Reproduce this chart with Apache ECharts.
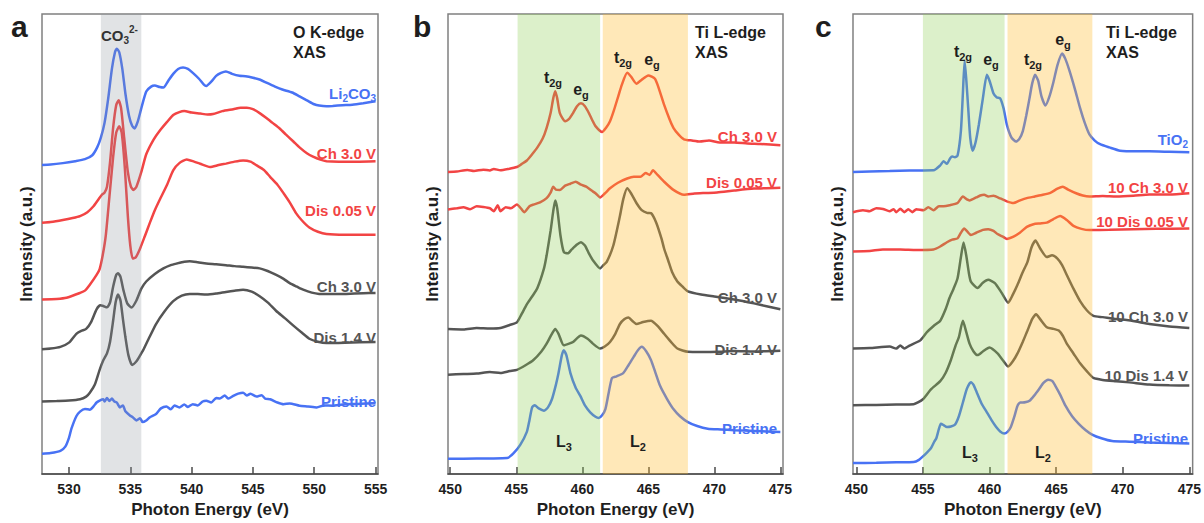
<!DOCTYPE html>
<html><head><meta charset="utf-8">
<script src="https://cdn.jsdelivr.net/npm/echarts@6/dist/echarts.min.js"></script>
<style>html,body{margin:0;padding:0;background:#fff}#c{width:1204px;height:523px}</style>
</head><body><div id="c"></div>
<script>
// ---------- tick labels ----------
const aXTicks = [530, 535, 540, 545, 550, 555];
const bXTicks = [450, 455, 460, 465, 470, 475];
const cXTicks = [450, 455, 460, 465, 470, 475];

// ---------- shaded energy bands ----------
const aBands = [[532.6, 535.9]];
const bBands = [[455.1, 461.35], [461.55, 468.0]];
const cBands = [[455.0, 461.13], [461.35, 467.72]];

// ---------- panel a : O K-edge ----------
const aLi2CO3 = [[527.8,315],[528.5,315.5],[529.5,317],[530.5,319],[531.3,321],[531.9,325],[532.3,333],[532.6,343],[532.9,358],[533.2,383],[533.5,413],[533.75,430],[533.9,433.7],[534.1,430],[534.35,413],[534.6,388],[534.9,365],[535.15,355],[535.35,352.3],[535.6,359],[535.9,373],[536.3,390],[536.7,395],[537.0,396],[537.4,394.5],[537.7,394],[538.1,401],[538.5,408],[538.9,413],[539.3,414.5],[539.7,413],[540.1,409],[540.6,403],[541.0,397],[541.2,395.7],[541.6,400],[542.0,406],[542.4,409],[542.8,410.5],[543.3,408],[543.9,406],[544.4,405.5],[545.0,404],[545.6,402],[546.1,399],[546.8,395],[547.4,392],[548.2,389],[548.8,385],[549.4,381],[550.0,377],[550.4,375.7],[551.0,375],[551.5,375.3],[552.3,376],[553.1,376.5],[554.0,378],[555.0,380]];
const aCh30 = [[527.8,256.3],[528.5,257],[529.5,259],[530.3,261],[530.9,263],[531.5,267],[532.0,273],[532.4,280],[532.7,285],[532.9,287],[533.1,293],[533.35,318],[533.6,353],[533.85,376],[534.05,381],[534.25,373],[534.5,343],[534.8,308],[535.05,293],[535.25,289.7],[535.5,293],[535.9,308],[536.3,326],[536.9,341],[537.4,350],[538.0,359],[538.5,366],[539.0,369],[539.4,370],[540.0,368.5],[540.7,367.5],[541.3,366.5],[541.75,367],[542.5,370],[543.4,372],[544.0,373.5],[544.5,373.5],[545.0,372],[545.55,368],[546.1,363],[546.6,358],[547.2,352],[547.7,346],[548.3,339],[548.8,333],[549.4,327],[549.9,323.5],[550.5,320.5],[551.0,319],[552.0,318.5],[553.5,318.5],[555.0,319]];
const aDis005 = [[527.8,178],[529.0,178.5],[529.8,179.7],[530.9,184.7],[531.3,187],[531.7,193],[532.25,203],[532.5,209],[532.75,223],[533.0,243],[533.3,283],[533.6,323],[533.85,348],[534.1,354.5],[534.3,348],[534.55,313],[534.8,263],[535.0,233],[535.2,219.7],[535.45,221],[535.8,230],[536.2,243],[536.6,256.3],[537.0,269],[537.4,279.7],[538.0,295],[538.5,309.7],[539.0,317],[539.6,320.7],[540.2,318.5],[540.7,316.3],[541.5,313],[542.2,315],[542.8,316.5],[543.5,318.5],[544.2,319.7],[544.8,318.5],[545.3,314.7],[545.9,310],[546.4,303],[547.0,295],[547.5,286.3],[548.0,277],[548.5,266.3],[549.0,258.5],[549.6,251.3],[550.3,247],[551.0,244.7],[552.5,244],[555.0,244]];
const aCh30Gray = [[527.8,127.3],[528.5,128],[529.3,129.7],[530.0,134],[530.6,143],[531.0,146],[531.4,148],[531.8,155],[532.25,168],[532.55,172],[532.8,171.3],[533.1,170],[533.35,175],[533.6,191],[533.85,203],[534.0,204.7],[534.2,201],[534.45,187],[534.75,174],[535.1,169.7],[535.5,177],[535.9,189],[536.3,196.3],[537.0,204],[537.7,209.7],[538.3,213],[538.8,214.7],[539.4,216.5],[539.85,217],[540.5,216],[541.2,214.7],[542.0,214],[542.8,213],[543.5,212],[544.2,211.3],[544.9,210.5],[545.55,209.7],[546.2,207],[546.9,203],[547.5,199],[548.0,194.7],[548.6,191],[549.1,188],[549.8,185],[550.4,183.7],[551.5,183.5],[552.6,183.7],[554.0,184.3],[555.0,184.7]];
const aDis14 = [[527.8,74],[529.0,74.5],[530.0,75],[530.9,76.3],[531.4,79],[531.7,83],[532.1,91],[532.5,106.3],[532.8,116],[533.1,123],[533.35,135],[533.6,156.3],[533.8,175],[534.0,183],[534.2,177],[534.4,158],[534.6,139.7],[534.85,121],[535.15,111.3],[535.5,115],[535.8,121],[536.05,126.3],[536.5,138],[537.1,153],[537.8,166],[538.5,176.3],[539.2,182],[539.85,183.7],[540.5,183.5],[541.2,183],[542.0,184],[542.8,185.7],[543.5,187],[544.2,188],[544.9,186],[545.55,181.3],[546.2,175],[546.9,166.3],[547.6,159],[548.3,151.3],[549.0,144],[549.6,138],[550.3,135],[551.0,133.7],[552.5,134],[555.0,134.7]];
const aPristine = [[527.8,20.7],[528.5,21.5],[529.3,23.7],[529.7,28],[530.0,37],[530.2,46.3],[530.6,59],[530.9,63.7],[531.3,66.3],[531.7,65.7],[532.0,69],[532.25,73],[532.5,75],[532.8,76.3],[532.9,74],[533.1,77.5],[533.3,74.5],[533.5,77],[533.7,74],[533.9,73],[534.15,68],[534.4,70],[534.6,64],[534.97,59.7],[535.2,58],[535.5,54.7],[535.8,57],[536.0,53],[536.3,54.7],[536.6,58],[537.1,61.3],[537.5,67],[537.95,69],[538.3,66],[538.6,70],[539.0,68],[539.4,71],[539.7,68.5],[540.1,71.3],[540.5,70],[540.9,74],[541.2,74.7],[541.6,73],[542.0,77.5],[542.3,77],[542.7,80],[543.0,77],[543.4,79.7],[543.8,82],[544.2,83],[544.5,80],[544.8,82],[545.3,79],[545.7,80.5],[546.0,77],[546.4,76.3],[547.0,73],[547.5,71.3],[548.0,72],[548.8,69.7],[549.5,69],[550.2,68],[550.8,70],[551.5,69.7],[552.3,71],[553.5,71.5],[555.0,72.3]];

// ---------- panel b : Ti L-edge ----------
const bCh30 = [[449.83,308],[450.5,308.5],[451.3,310],[451.8,309],[452.5,310.3],[453.0,309.5],[453.3,311],[453.8,309.7],[454.4,311],[455.05,313],[455.4,316],[455.8,319.7],[456.2,326],[456.6,333],[457.0,342],[457.3,353],[457.6,368],[457.8,383],[457.95,390.3],[458.1,383],[458.3,368],[458.7,359.7],[459.0,362],[459.3,368],[459.6,375],[459.9,378],[460.2,375],[460.5,368],[460.75,361],[461.0,354.7],[461.5,348.7],[461.8,353],[462.1,359.7],[462.4,371],[462.75,386.3],[463.0,397],[463.4,409],[463.7,405],[464.1,398],[464.5,402],[465.0,406.3],[465.5,403],[465.8,393],[466.2,376.3],[466.6,362],[466.9,353],[467.3,346],[467.7,341.3],[468.3,340],[468.9,339],[469.6,340],[470.4,338],[471.5,338],[472.5,337],[473.5,336.5],[475.0,335.3]];
const bDis005 = [[449.83,269.7],[450.5,271],[451.0,272],[451.5,270],[452.0,273],[452.5,272.3],[453.0,271],[453.3,268],[453.6,274],[453.8,268],[454.2,272],[454.6,271],[455.05,274.7],[455.4,270],[455.6,267],[456.0,273],[456.3,274.7],[456.8,277],[457.3,281.3],[457.6,287],[457.8,293],[458.0,290],[458.3,289.7],[458.7,294],[459.1,296],[459.5,298],[459.9,295],[460.3,293],[460.7,289],[461.0,286.3],[461.35,282],[461.7,286],[462.1,291.3],[462.7,297],[463.4,301.3],[463.9,303],[464.4,303],[464.8,307],[465.1,305],[465.35,309.7],[465.7,305],[466.2,298],[466.9,289.7],[467.7,284.7],[468.5,286],[469.3,286.5],[470.2,287],[471.5,289],[473.0,291],[475.0,292]];
const bCh30Gray = [[449.83,148],[451.0,147.5],[452.0,149],[453.0,148.5],[453.8,149],[454.5,152],[455.05,154.7],[455.4,163],[455.8,173],[456.2,181],[456.6,189.7],[457.1,209.7],[457.3,223],[457.6,248],[457.8,268],[457.95,279],[458.1,271],[458.35,243],[458.6,226.3],[458.9,225],[459.2,229],[459.6,234],[459.9,236.3],[460.2,233],[460.5,225],[460.8,218],[461.35,209.7],[461.6,213],[461.85,216.3],[462.35,233],[462.85,263],[463.1,280],[463.4,291.3],[463.7,286],[464.1,276.3],[464.5,269],[464.9,266.3],[465.2,266],[465.6,256.3],[466.0,240],[466.2,229.7],[466.5,218],[466.8,206],[467.2,196.3],[467.6,191],[468.0,186.3],[469.0,183],[470.0,181],[471.5,178],[473.0,174],[475.0,168]];
const bDis14 = [[449.83,101.3],[451.0,102],[452.0,102.5],[453.0,104],[453.8,103],[454.5,105],[455.05,106.3],[455.7,111],[456.3,116.3],[456.9,125],[457.3,133],[457.7,143],[457.95,148],[458.2,143],[458.6,131.3],[459.0,133],[459.3,134.7],[459.9,141.3],[460.4,138],[460.8,133],[461.35,128],[461.7,130],[462.1,134.7],[462.5,143],[462.85,153],[463.2,158],[463.5,159.7],[463.8,156],[464.1,153],[464.6,155],[465.2,156.3],[465.7,151],[466.2,143],[466.7,135],[467.2,128],[468.0,124.7],[469.0,124.5],[470.3,124.7],[471.5,125.5],[473.0,125],[475.0,125.7]];
const bPristine = [[449.83,15.7],[451.0,15.7],[453.0,16],[454.3,16.3],[454.8,21.3],[455.3,29.7],[455.8,43],[456.0,55],[456.2,68],[456.4,70.3],[456.7,67],[457.1,64.7],[457.4,68],[457.7,76.3],[458.0,91],[458.2,103],[458.45,121],[458.6,126.3],[458.8,121],[459.1,103],[459.5,88],[459.85,79.7],[460.2,70],[460.6,63],[461.0,58.5],[461.25,57.3],[461.5,60],[461.75,66.3],[462.0,83],[462.25,98],[462.6,99.7],[463.1,103],[463.5,111],[463.9,119.7],[464.2,126],[464.5,129.7],[464.85,125],[465.2,116.3],[465.5,105],[465.9,89.7],[466.4,77],[466.9,66.3],[467.4,59],[468.0,53],[468.7,49],[469.5,46.3],[470.5,45.5],[471.5,44.7],[473.0,44],[475.0,43]];

// ---------- panel c : Ti L-edge after 10 cycles ----------
const cTiO2 = [[449.75,308],[451.0,308.5],[452.5,309],[454.0,309.5],[455.8,309.7],[456.3,314.7],[456.55,319],[456.8,316.3],[457.05,322],[457.2,323.7],[457.4,323],[457.6,324.7],[457.85,349.7],[458.0,388],[458.13,421.3],[458.25,403],[458.4,373],[458.55,343],[458.73,329.7],[458.95,338],[459.2,356.3],[459.5,383],[459.8,407],[460.0,401],[460.3,388],[460.55,384],[460.8,383],[461.05,373],[461.3,356.3],[461.65,343],[462.0,339],[462.25,342],[462.5,349.7],[462.75,365],[463.0,383],[463.2,398],[463.42,407],[463.65,401],[463.9,385],[464.2,375.7],[464.5,385],[464.8,399.7],[465.1,417],[465.45,428.7],[465.7,423],[466.0,411.3],[466.4,393],[466.8,373],[467.15,358],[467.5,346.3],[467.9,340],[468.3,336.3],[469.0,333],[469.8,329.7],[471.0,329],[472.0,329],[473.5,328.5],[475.0,328]];
const c10Ch30 = [[449.75,267],[450.5,269],[451.0,268],[451.5,271],[452.0,270.3],[452.5,268],[452.8,270],[453.0,267],[453.3,270.5],[453.6,267],[453.9,270],[454.2,267],[454.5,270],[455.05,269],[455.4,272],[455.8,269],[456.2,273],[456.55,273],[457.0,274],[457.6,276.3],[458.0,283],[458.3,280],[458.5,279],[459.0,282],[459.3,284],[459.6,284.7],[459.9,283],[460.3,283.7],[460.8,281],[461.3,278],[461.8,276.3],[462.3,279],[462.8,281.3],[463.4,283],[464.0,284.7],[464.6,287],[465.1,291],[465.5,293],[465.9,290],[466.5,286.3],[467.0,284],[467.5,283],[468.5,283.5],[469.5,283],[470.8,283.7],[472.0,285],[473.5,285],[475.0,286.3]];
const c10Dis005 = [[449.75,227],[451.0,227.5],[452.0,229],[453.3,229],[454.5,228.5],[455.8,229],[456.3,232],[456.8,236.3],[457.2,239],[457.6,240.3],[457.85,246],[458.1,250.3],[458.35,247],[458.6,243.7],[459.0,246],[459.5,249],[459.9,249.7],[460.3,248],[460.6,244.7],[461.0,242],[461.3,239.7],[461.8,242],[462.3,246.3],[462.8,252],[463.3,254.7],[463.8,255.5],[464.3,256.3],[464.8,260],[465.3,263],[465.8,259],[466.3,253],[466.9,250],[467.5,248.7],[469.0,249],[470.8,249.7],[472.5,250],[475.0,250.3]];
const c10Ch30Gray = [[449.75,128],[451.0,128.5],[452.5,130],[453.0,128],[453.3,131],[453.6,128],[454.0,131],[454.8,136.3],[455.3,144.7],[455.8,151],[456.3,156.3],[456.7,168],[457.0,179.7],[457.3,189],[457.6,199.7],[457.85,221],[458.05,236],[458.25,223],[458.45,205],[458.6,196.3],[459.1,189.7],[459.5,195],[459.9,198],[460.4,194.7],[460.9,185],[461.4,174.7],[461.75,183],[462.1,193],[462.5,206],[462.85,216.3],[463.15,231],[463.45,238],[463.8,230],[464.3,221.3],[464.7,223],[465.1,219.7],[465.45,213],[465.8,203],[466.3,189],[466.8,176.3],[467.3,167],[467.8,161.3],[468.5,160],[469.5,158],[470.3,157],[471.0,155.5],[472.0,153],[473.5,150.5],[475.0,149]];
const c10Dis14 = [[449.75,70.3],[451.5,70.5],[453.0,71],[454.3,71.3],[455.0,76.3],[455.6,86.3],[456.3,94.7],[456.7,103],[457.1,116.3],[457.45,131],[457.7,139.7],[458.0,156.3],[458.25,145],[458.5,133],[458.8,125],[459.1,121.3],[459.5,125],[460.0,129],[460.6,123],[461.0,116],[461.4,109.7],[461.75,115],[462.1,123],[462.5,135],[462.85,146.3],[463.2,158],[463.5,163],[463.8,158],[464.3,149.7],[464.8,148],[465.2,146.3],[465.5,141],[465.8,133],[466.3,123],[466.8,113],[467.3,105],[467.8,98],[468.5,96],[469.5,94.7],[470.5,93.5],[472.0,91.3],[473.5,90.5],[475.0,90.3]];
const cPristine = [[449.75,11.3],[451.5,11.5],[453.0,12],[454.3,12.3],[454.7,14.5],[455.0,18],[455.3,22],[455.6,26.3],[455.85,33],[456.0,36.3],[456.2,46],[456.35,51.3],[456.55,50],[456.8,48],[457.1,48.5],[457.4,50.3],[457.7,59],[458.0,73],[458.3,87],[458.6,93.7],[458.8,91],[459.05,83],[459.4,72],[459.8,63],[460.15,55],[460.5,48],[460.8,43.5],[461.1,41.3],[461.35,43],[461.6,48],[461.85,58],[462.1,69.7],[462.3,73],[462.5,73],[462.75,73.5],[463.0,74.7],[463.35,80],[463.7,86.3],[464.05,93],[464.4,96.3],[464.7,95],[464.95,89.7],[465.3,81],[465.7,69.7],[466.2,59],[466.7,51.3],[467.2,45],[467.7,40.3],[468.4,36.5],[469.2,33.7],[470.5,33],[472.0,32.3],[473.5,31.7],[475.0,31.3]];

// ---------- styling ----------
const BLUE = '#4872f4', RED = '#f24444', GRAY = '#555555', INK = '#1e1e1e';
const FONT = '"Liberation Sans", Arial, Helvetica, sans-serif';
const GRAYBAND = 'rgba(140,145,155,0.26)';
const GREEN = 'rgba(140,205,80,0.30)';
const YELLOW = 'rgba(255,185,40,0.33)';

const gridBox = [
  {left: 42, width: 336, top: 14, bottom: 40},
  {left: 448, width: 335, top: 14, bottom: 40},
  {left: 853, width: 340, top: 14, bottom: 40}
];

function xAx(i, min, max, ticks) {
  return {
    type: 'value', gridIndex: i, min: min, max: max,
    name: 'Photon Energy (eV)', nameLocation: 'middle', nameGap: 21,
    nameTextStyle: {fontFamily: FONT, fontWeight: 'bold', fontSize: 17, color: INK},
    axisLine: {show: true, onZero: false, lineStyle: {color: '#4a4a4a', width: 1.5}},
    axisTick: {show: true, inside: true, length: 7, customValues: ticks, lineStyle: {color: '#4a4a4a', width: 1.5}},
    axisLabel: {show: true, customValues: ticks, margin: 8, fontFamily: FONT, fontWeight: 'bold', fontSize: 14, color: INK},
    splitLine: {show: false}
  };
}
function yAx(i) {
  return {
    type: 'value', gridIndex: i, min: 0, max: 469,
    name: 'Intensity (a.u.)', nameLocation: 'middle', nameGap: 7,
    nameTextStyle: {fontFamily: FONT, fontWeight: 'bold', fontSize: 17, color: INK},
    axisLine: {show: false}, axisTick: {show: false}, axisLabel: {show: false}, splitLine: {show: false}
  };
}
function ln(i, data, color) {
  return {type: 'line', xAxisIndex: i, yAxisIndex: i, data: data, symbol: 'none', showSymbol: false,
    smooth: 0.2, lineStyle: {color: color, width: 2.5}, itemStyle: {color: color}, silent: true, z: 2};
}
function bandSeries(i, ranges, colors) {
  return {type: 'line', xAxisIndex: i, yAxisIndex: i, data: [], silent: true, z: 10,
    markArea: {silent: true, z: 10, data: ranges.map(function (r, k) {
      return [{xAxis: r[0], itemStyle: {color: colors[k], borderWidth: 0}}, {xAxis: r[1]}];
    })}};
}

// text made of main / subscript / superscript pieces, laid out side by side
const measureCtx = document.createElement('canvas').getContext('2d');
function fontOf(px) { return 'bold ' + px + 'px ' + FONT; }
function textWidth(s, px) { measureCtx.font = fontOf(px); return measureCtx.measureText(s).width; }
function txt(x, yc, parts, color, align, size) {
  if (typeof parts === 'string') parts = [[parts, 'm']];
  const small = Math.round(size * 0.68);
  const pieces = parts.map(function (p) {
    const px = p[1] === 'm' ? size : small;
    return {t: p[0], kind: p[1], px: px, w: textWidth(p[0], px)};
  });
  const total = pieces.reduce(function (a, p) { return a + p.w; }, 0);
  let cx = align === 'right' ? x - total : align === 'center' ? x - total / 2 : x;
  const out = [];
  pieces.forEach(function (p) {
    const dy = p.kind === 's' ? size * 0.36 : p.kind === 'p' ? -size * 0.36 : 0;
    out.push({type: 'text', x: cx, y: yc + dy, z: 100, silent: true,
      style: {text: p.t, fill: color, font: fontOf(p.px), textAlign: 'left', align: 'left',
        textVerticalAlign: 'middle', verticalAlign: 'middle'}});
    cx += p.w;
  });
  return out;
}

const graphics = [].concat(
  txt(11, 26, 'a', INK, 'left', 30),
  txt(413, 26, 'b', INK, 'left', 30),
  txt(815, 26, 'c', INK, 'left', 30),
  // panel a
  txt(101, 35, [['CO', 'm'], ['3', 's'], ['2-', 'p']], '#333', 'left', 15),
  txt(293, 32.5, 'O K-edge', INK, 'left', 16),
  txt(293, 52.5, 'XAS', INK, 'left', 16),
  txt(376, 93, [['Li', 'm'], ['2', 's'], ['CO', 'm'], ['3', 's']], BLUE, 'right', 15),
  txt(376, 153, 'Ch 3.0 V', RED, 'right', 15),
  txt(376, 210, 'Dis 0.05 V', RED, 'right', 15),
  txt(376, 286.5, 'Ch 3.0 V', GRAY, 'right', 15),
  txt(376, 337.5, 'Dis 1.4 V', GRAY, 'right', 15),
  txt(376, 401, 'Pristine', BLUE, 'right', 15),
  // panel b
  txt(695, 32.5, 'Ti L-edge', INK, 'left', 16),
  txt(695, 52.5, 'XAS', INK, 'left', 16),
  txt(553, 77, [['t', 'm'], ['2g', 's']], INK, 'center', 16),
  txt(581, 89, [['e', 'm'], ['g', 's']], INK, 'center', 16),
  txt(623, 57, [['t', 'm'], ['2g', 's']], INK, 'center', 16),
  txt(652, 59, [['e', 'm'], ['g', 's']], INK, 'center', 16),
  txt(564, 441, [['L', 'm'], ['3', 's']], INK, 'center', 16),
  txt(638, 441, [['L', 'm'], ['2', 's']], INK, 'center', 16),
  txt(777, 136, 'Ch 3.0 V', RED, 'right', 15),
  txt(777, 182.5, 'Dis 0.05 V', RED, 'right', 15),
  txt(777, 297.5, 'Ch 3.0 V', GRAY, 'right', 15),
  txt(777, 349, 'Dis 1.4 V', GRAY, 'right', 15),
  txt(777, 428, 'Pristine', BLUE, 'right', 15),
  // panel c
  txt(1106, 32.5, 'Ti L-edge', INK, 'left', 16),
  txt(1106, 52.5, 'XAS', INK, 'left', 16),
  txt(963, 51.5, [['t', 'm'], ['2g', 's']], INK, 'center', 16),
  txt(991, 59, [['e', 'm'], ['g', 's']], INK, 'center', 16),
  txt(1033, 59, [['t', 'm'], ['2g', 's']], INK, 'center', 16),
  txt(1063, 39, [['e', 'm'], ['g', 's']], INK, 'center', 16),
  txt(970, 452.5, [['L', 'm'], ['3', 's']], INK, 'center', 16),
  txt(1043, 452.5, [['L', 'm'], ['2', 's']], INK, 'center', 16),
  txt(1188, 139, [['TiO', 'm'], ['2', 's']], BLUE, 'right', 15),
  txt(1188, 187.5, '10 Ch 3.0 V', RED, 'right', 15),
  txt(1188, 221, '10 Dis 0.05 V', RED, 'right', 15),
  txt(1188, 316, '10 Ch 3.0 V', GRAY, 'right', 15),
  txt(1188, 375, '10 Dis 1.4 V', GRAY, 'right', 15),
  txt(1188, 438.5, 'Pristine', BLUE, 'right', 15)
);

const chart = echarts.init(document.getElementById('c'), null, {renderer: 'svg', width: 1204, height: 523});
chart.setOption({
  backgroundColor: '#ffffff',
  animation: false,
  textStyle: {fontFamily: FONT},
  grid: gridBox.map(function (g) {
    return Object.assign({show: true, borderColor: '#808080', borderWidth: 1.5, backgroundColor: 'transparent', containLabel: false}, g);
  }),
  xAxis: [xAx(0, 527.8, 555.2, aXTicks), xAx(1, 449.83, 475.2, bXTicks), xAx(2, 449.75, 475.25, cXTicks)],
  yAxis: [yAx(0), yAx(1), yAx(2)],
  series: [
    ln(0, aLi2CO3, BLUE), ln(0, aCh30, RED), ln(0, aDis005, RED), ln(0, aCh30Gray, GRAY), ln(0, aDis14, GRAY), ln(0, aPristine, BLUE),
    ln(1, bCh30, RED), ln(1, bDis005, RED), ln(1, bCh30Gray, GRAY), ln(1, bDis14, GRAY), ln(1, bPristine, BLUE),
    ln(2, cTiO2, BLUE), ln(2, c10Ch30, RED), ln(2, c10Dis005, RED), ln(2, c10Ch30Gray, GRAY), ln(2, c10Dis14, GRAY), ln(2, cPristine, BLUE),
    bandSeries(0, aBands, [GRAYBAND]),
    bandSeries(1, bBands, [GREEN, YELLOW]),
    bandSeries(2, cBands, [GREEN, YELLOW])
  ],
  graphic: graphics
});
</script>
</body></html>
